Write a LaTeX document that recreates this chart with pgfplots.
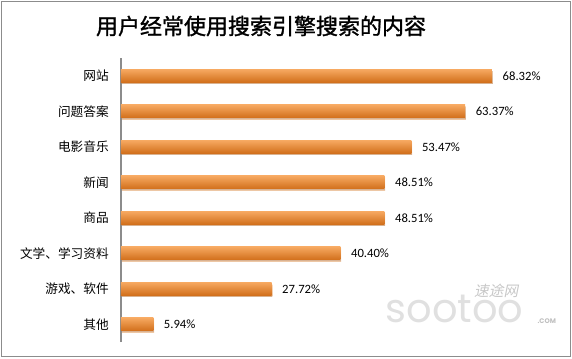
\documentclass[border=0pt]{standalone}
\usepackage{pgfplots}
\pgfplotsset{compat=1.18}
\usepackage{fontspec}
\setmainfont{Noto Sans CJK SC}
\newfontfamily\cjk{Noto Sans CJK SC}
\newfontfamily\titlefont[FakeBold=1.4]{Noto Sans CJK SC}
\newfontfamily\numfont{Carlito}
\newfontfamily\logofont{Poppins}
\usetikzlibrary{shadows}
\definecolor{barmid}{HTML}{F0862A}
\definecolor{bartop}{HTML}{F6A860}
\definecolor{barbot}{HTML}{D2701C}
\definecolor{framegray}{HTML}{8C8C8C}
\pgfplotsset{orangebar/.style={draw=none, top color=bartop, middle color=barmid, bottom color=barbot, bar shift=0pt,
  drop shadow={shadow xshift=0.6pt, shadow yshift=-1.4pt, fill=black!35, opacity=0.4}}}
\begin{document}
\begin{tikzpicture}
\path[use as bounding box] (0,0) rectangle (429pt,268.5pt);
\draw[framegray, line width=0.9pt] (1.125pt,1.125pt) rectangle (427.875pt,267.375pt);
\node[font=\titlefont\fontsize{16.5}{18}\selectfont, inner sep=0pt] at (195.75pt,249pt) {用户经常使用搜索引擎搜索的内容};
% watermark
\node[font=\cjk\fontsize{11}{12}\selectfont, text=black!22, inner sep=0pt, xslant=0.2] at (373pt,50pt) {速途网};
\node[font=\logofont\fontsize{30}{31}\selectfont, text=black!12, inner sep=0pt, anchor=south west] at (289pt,26pt) {sootoo};
\node[font=\logofont\fontsize{5}{6}\selectfont\bfseries, text=black!25, inner sep=0pt, anchor=south west] at (403pt,26pt) {.COM};
\begin{axis}[
  at={(90.75pt,12pt)}, anchor=south west,
  scale only axis, width=325.8pt, height=213pt,
  xmin=0, xmax=80, ymin=-0.5, ymax=7.5,
  axis x line=none,
  axis y line*=left,
  y axis line style={framegray, line width=0.8pt, -},
  ytick={0,1,2,3,4,5,6,7},
  yticklabels={其他,{游戏、软件},{文学、学习资料},商品,新闻,电影音乐,问题答案,网站},
  major tick length=0pt,
  yticklabel style={font=\cjk\fontsize{9.5}{11}\selectfont, anchor=east, inner sep=0pt, xshift=-9pt},
  xbar, bar width=9.5pt,
  /pgf/number format/assume math mode=true,
  nodes near coords={\pgfmathprintnumber[fixed,fixed zerofill,precision=2]{\pgfplotspointmeta}\%},
  nodes near coords style={font=\numfont\fontsize{9.5}{11}\selectfont, anchor=west, xshift=4.5pt, text=black},
  clip=false,
]
\addplot[orangebar] coordinates {(5.94,0)};
\addplot[orangebar] coordinates {(27.72,1)};
\addplot[orangebar] coordinates {(40.40,2)};
\addplot[orangebar] coordinates {(48.51,3)};
\addplot[orangebar] coordinates {(48.51,4)};
\addplot[orangebar] coordinates {(53.47,5)};
\addplot[orangebar] coordinates {(63.37,6)};
\addplot[orangebar] coordinates {(68.32,7)};
\end{axis}
\end{tikzpicture}
\end{document}
